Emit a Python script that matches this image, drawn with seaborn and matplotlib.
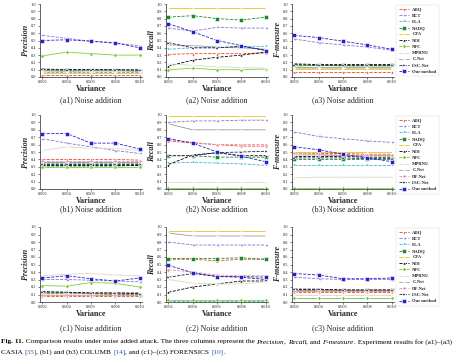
import numpy as np
import pandas as pd
import seaborn as sns
import matplotlib.pyplot as plt

# variance levels on the x axis
variance = [0.002, 0.004, 0.006, 0.008, 0.010]

methods_a = ["ADQ", "BCT", "ELA", "NADQ", "CFA", "NOI", "NFC", "MPRNU", "C-Net", "LSC-Net", "Our method"]
methods_bc = ["ADQ", "BCT", "ELA", "NADQ", "CFA", "NOI", "NFC", "MPRNU", "C-Net", "DF-Net", "LSC-Net", "Our method"]

# CASIA
a1_precision = {
    "ADQ": [0.03, 0.03, 0.03, 0.03, 0.03],
    "BCT": [0.57, 0.53, 0.49, 0.46, 0.43],
    "ELA": [0.07, 0.07, 0.07, 0.07, 0.07],
    "NADQ": [0.09, 0.09, 0.09, 0.09, 0.08],
    "CFA": [0.06, 0.06, 0.06, 0.06, 0.06],
    "NOI": [0.10, 0.10, 0.10, 0.10, 0.09],
    "NFC": [0.29, 0.34, 0.32, 0.30, 0.30],
    "MPRNU": [0.08, 0.08, 0.08, 0.08, 0.08],
    "C-Net": [0.09, 0.08, 0.09, 0.09, 0.08],
    "LSC-Net": [0.11, 0.10, 0.10, 0.10, 0.10],
    "Our method": [0.50, 0.51, 0.49, 0.47, 0.40],
}
a2_recall = {
    "ADQ": [0.31, 0.32, 0.32, 0.32, 0.33],
    "BCT": [0.67, 0.63, 0.68, 0.67, 0.67],
    "ELA": [0.38, 0.40, 0.40, 0.42, 0.42],
    "NADQ": [0.82, 0.84, 0.80, 0.78, 0.82],
    "CFA": [0.95, 0.95, 0.95, 0.95, 0.95],
    "NOI": [0.15, 0.23, 0.27, 0.30, 0.34],
    "NFC": [0.10, 0.12, 0.10, 0.10, 0.11],
    "MPRNU": [0.18, 0.16, 0.14, 0.13, 0.12],
    "C-Net": [0.44, 0.43, 0.41, 0.40, 0.38],
    "LSC-Net": [0.47, 0.40, 0.40, 0.42, 0.37],
    "Our method": [0.73, 0.62, 0.50, 0.43, 0.36],
}
a3_fmeasure = {
    "ADQ": [0.07, 0.07, 0.07, 0.07, 0.07],
    "BCT": [0.52, 0.47, 0.44, 0.41, 0.37],
    "ELA": [0.13, 0.13, 0.13, 0.13, 0.13],
    "NADQ": [0.16, 0.16, 0.16, 0.16, 0.16],
    "CFA": [0.11, 0.11, 0.11, 0.11, 0.11],
    "NOI": [0.18, 0.17, 0.17, 0.17, 0.17],
    "NFC": [0.15, 0.16, 0.15, 0.15, 0.15],
    "MPRNU": [0.12, 0.12, 0.12, 0.12, 0.12],
    "C-Net": [0.14, 0.14, 0.14, 0.14, 0.14],
    "LSC-Net": [0.17, 0.16, 0.16, 0.16, 0.16],
    "Our method": [0.57, 0.54, 0.49, 0.44, 0.38],
}

# COLUMB
b1_precision = {
    "ADQ": [0.40, 0.40, 0.40, 0.40, 0.39],
    "BCT": [0.68, 0.62, 0.57, 0.52, 0.48],
    "ELA": [0.35, 0.35, 0.35, 0.35, 0.35],
    "NADQ": [0.31, 0.31, 0.31, 0.31, 0.32],
    "CFA": [0.37, 0.37, 0.37, 0.37, 0.37],
    "NOI": [0.33, 0.33, 0.33, 0.33, 0.33],
    "NFC": [0.30, 0.30, 0.30, 0.30, 0.30],
    "MPRNU": [0.52, 0.57, 0.55, 0.55, 0.52],
    "C-Net": [0.36, 0.36, 0.36, 0.36, 0.36],
    "DF-Net": [0.38, 0.38, 0.38, 0.38, 0.38],
    "LSC-Net": [0.34, 0.34, 0.34, 0.34, 0.34],
    "Our method": [0.75, 0.75, 0.62, 0.62, 0.54],
}
b2_recall = {
    "ADQ": [0.65, 0.62, 0.60, 0.58, 0.58],
    "BCT": [0.90, 0.92, 0.92, 0.93, 0.93],
    "ELA": [0.35, 0.36, 0.35, 0.34, 0.32],
    "NADQ": [0.45, 0.45, 0.43, 0.43, 0.43],
    "CFA": [0.98, 0.98, 0.98, 0.98, 0.98],
    "NOI": [0.33, 0.46, 0.49, 0.45, 0.45],
    "NFC": [0.01, 0.01, 0.01, 0.01, 0.01],
    "MPRNU": [0.10, 0.10, 0.10, 0.10, 0.10],
    "C-Net": [0.88, 0.80, 0.80, 0.80, 0.80],
    "DF-Net": [0.67, 0.63, 0.60, 0.60, 0.60],
    "LSC-Net": [0.45, 0.45, 0.49, 0.50, 0.51],
    "Our method": [0.68, 0.62, 0.50, 0.44, 0.37],
}
b3_fmeasure = {
    "ADQ": [0.49, 0.48, 0.48, 0.47, 0.47],
    "BCT": [0.77, 0.71, 0.68, 0.65, 0.63],
    "ELA": [0.33, 0.33, 0.33, 0.33, 0.33],
    "NADQ": [0.40, 0.40, 0.40, 0.40, 0.40],
    "CFA": [0.50, 0.50, 0.50, 0.50, 0.50],
    "NOI": [0.44, 0.44, 0.44, 0.43, 0.43],
    "NFC": [0.02, 0.02, 0.02, 0.02, 0.02],
    "MPRNU": [0.15, 0.16, 0.16, 0.16, 0.16],
    "C-Net": [0.46, 0.46, 0.45, 0.45, 0.45],
    "DF-Net": [0.48, 0.47, 0.46, 0.46, 0.46],
    "LSC-Net": [0.42, 0.42, 0.42, 0.41, 0.41],
    "Our method": [0.57, 0.53, 0.47, 0.42, 0.37],
}

# FORENSICS
c1_precision = {
    "ADQ": [0.08, 0.08, 0.08, 0.08, 0.08],
    "BCT": [0.30, 0.30, 0.29, 0.28, 0.27],
    "ELA": [0.10, 0.10, 0.10, 0.10, 0.10],
    "NADQ": [0.11, 0.11, 0.11, 0.10, 0.10],
    "CFA": [0.09, 0.09, 0.09, 0.09, 0.09],
    "NOI": [0.13, 0.13, 0.12, 0.12, 0.12],
    "NFC": [0.22, 0.21, 0.26, 0.25, 0.20],
    "MPRNU": [0.35, 0.37, 0.38, 0.36, 0.35],
    "C-Net": [0.12, 0.12, 0.11, 0.11, 0.11],
    "DF-Net": [0.09, 0.09, 0.09, 0.09, 0.09],
    "LSC-Net": [0.14, 0.13, 0.12, 0.12, 0.11],
    "Our method": [0.32, 0.35, 0.31, 0.28, 0.32],
}
c2_recall = {
    "ADQ": [0.57, 0.57, 0.55, 0.57, 0.57],
    "BCT": [0.80, 0.76, 0.76, 0.76, 0.76],
    "ELA": [0.02, 0.02, 0.02, 0.02, 0.02],
    "NADQ": [0.58, 0.58, 0.58, 0.59, 0.57],
    "CFA": [0.95, 0.95, 0.95, 0.95, 0.95],
    "NOI": [0.13, 0.20, 0.24, 0.28, 0.28],
    "NFC": [0.03, 0.03, 0.03, 0.03, 0.03],
    "MPRNU": [0.30, 0.25, 0.24, 0.24, 0.27],
    "C-Net": [0.92, 0.88, 0.88, 0.88, 0.88],
    "DF-Net": [0.43, 0.40, 0.36, 0.35, 0.35],
    "LSC-Net": [0.33, 0.38, 0.34, 0.33, 0.30],
    "Our method": [0.49, 0.39, 0.34, 0.34, 0.33],
}
c3_fmeasure = {
    "ADQ": [0.14, 0.14, 0.14, 0.14, 0.14],
    "BCT": [0.33, 0.31, 0.30, 0.30, 0.30],
    "ELA": [0.05, 0.05, 0.05, 0.05, 0.05],
    "NADQ": [0.16, 0.16, 0.16, 0.16, 0.16],
    "CFA": [0.15, 0.15, 0.15, 0.15, 0.15],
    "NOI": [0.17, 0.17, 0.16, 0.16, 0.16],
    "NFC": [0.05, 0.05, 0.05, 0.05, 0.05],
    "MPRNU": [0.10, 0.10, 0.10, 0.10, 0.10],
    "C-Net": [0.16, 0.16, 0.16, 0.16, 0.16],
    "DF-Net": [0.15, 0.15, 0.15, 0.15, 0.15],
    "LSC-Net": [0.17, 0.17, 0.16, 0.16, 0.16],
    "Our method": [0.38, 0.36, 0.31, 0.31, 0.32],
}

colors = {
    "ADQ": "#e8432c", "BCT": "#8a6fd6", "ELA": "#35bccb", "NADQ": "#1b8a2c",
    "CFA": "#f0c020", "NOI": "#000000", "NFC": "#7ccf3a", "MPRNU": "#d9d9c4",
    "C-Net": "#9a9a9a", "DF-Net": "#f08aa8", "LSC-Net": "#1e1e55", "Our method": "#2323c8",
}
markers = {
    "ADQ": "^", "BCT": "<", "ELA": "v", "NADQ": "s", "CFA": "x", "NOI": "^",
    "NFC": "D", "MPRNU": "*", "C-Net": "+", "DF-Net": "o", "LSC-Net": ">", "Our method": "s",
}
solid = {"CFA", "NFC", "C-Net", "MPRNU"}

sns.set_theme(style="ticks")
plt.rcParams["font.family"] = ["Liberation Serif", "DejaVu Serif"]

fig = plt.figure(figsize=(4.61, 3.57), dpi=100)

rows = [
    ("a", [a1_precision, a2_recall, a3_fmeasure], methods_a, 4, 77, 100),
    ("b", [b1_precision, b2_recall, b3_fmeasure], methods_bc, 115, 189, 209),
    ("c", [c1_precision, c2_recall, c3_fmeasure], methods_bc, 227, 302, 328),
]
col_left = [40, 166, 292]
col_width = 102
ylabels = ["Precision", "Recall", "F-measure"]
W, H = 461, 357

for tag, panels, methods, top, bottom, cap_y in rows:
    for j, data in enumerate(panels):
        ax = fig.add_axes([col_left[j] / W, 1 - bottom / H, col_width / W, (bottom - top) / H])
        for m in methods:
            sns.lineplot(x=variance, y=data[m], ax=ax, color=colors[m], marker=markers[m],
                         linestyle="-" if m in solid else "--", linewidth=0.6,
                         markersize=2.2, markeredgewidth=0.4, label=m)
        ax.set_xlim(0.0018, 0.0102)
        ax.set_ylim(0, 1.0)
        ax.set_xticks(variance)
        ax.set_xticklabels([f"{v:.3f}" for v in variance])
        ax.set_yticks(np.arange(0, 1.01, 0.1))
        ax.set_yticklabels([f"{v:.1f}" for v in np.arange(0, 1.01, 0.1)])
        ax.tick_params(labelsize=3.2, length=1.5, width=0.4, pad=1)
        for s in ax.spines.values():
            s.set_linewidth(0.5)
        sns.despine(ax=ax)
        ax.set_xlabel("Variance", fontsize=5.8, fontweight="bold", labelpad=0.5)
        ax.set_ylabel(ylabels[j], fontsize=5.8, fontweight="bold", style="italic", labelpad=1)
        if j == 2:
            leg = ax.legend(loc="upper left", bbox_to_anchor=(1.0, 1.02), fontsize=3.3,
                            frameon=True, handlelength=2.2, labelspacing=0.45,
                            borderpad=0.5, handletextpad=0.8, fancybox=False)
            leg.get_frame().set_linewidth(0.3)
            leg.get_frame().set_edgecolor("#cccccc")
            for t in leg.get_texts():
                t.set_fontweight("bold")
        else:
            ax.get_legend().remove()
        fig.text((col_left[j] + col_width / 2) / W, 1 - cap_y / H,
                 f"({tag}{j + 1}) Noise addition", ha="center", va="center", fontsize=5.8)

# figure caption, built from pieces so bold / italic parts keep the serif font
cap_size = 5.2
cap_lines = [
    [("Fig. 11.", "bold", "normal", "black"),
     (" Comparison results under noise added attack. The three columns represent the ", "normal", "normal", "black"),
     ("Precision", "normal", "italic", "black"), (", ", "normal", "normal", "black"),
     ("Recall", "normal", "italic", "black"), (", and ", "normal", "normal", "black"),
     ("F-measure", "normal", "italic", "black"),
     (". Experiment results for (a1)–(a3)", "normal", "normal", "black")],
    [("CASIA ", "normal", "normal", "black"), ("[35]", "normal", "normal", "#3060b0"),
     (", (b1) and (b3) COLUMB ", "normal", "normal", "black"), ("[14]", "normal", "normal", "#3060b0"),
     (", and (c1)–(c3) FORENSICS ", "normal", "normal", "black"), ("[10]", "normal", "normal", "#3060b0"),
     (".", "normal", "normal", "black")],
]
renderer = fig.canvas.get_renderer()
for line, ypx in zip(cap_lines, [342, 352]):
    x = 1 / W
    for txt, weight, style, col in line:
        t = fig.text(x, 1 - ypx / H, txt, ha="left", va="center", fontsize=cap_size,
                     fontweight=weight, style=style, color=col)
        bb = t.get_window_extent(renderer=renderer)
        x += bb.width / fig.bbox.width

fig.savefig("out.png", dpi=100)
